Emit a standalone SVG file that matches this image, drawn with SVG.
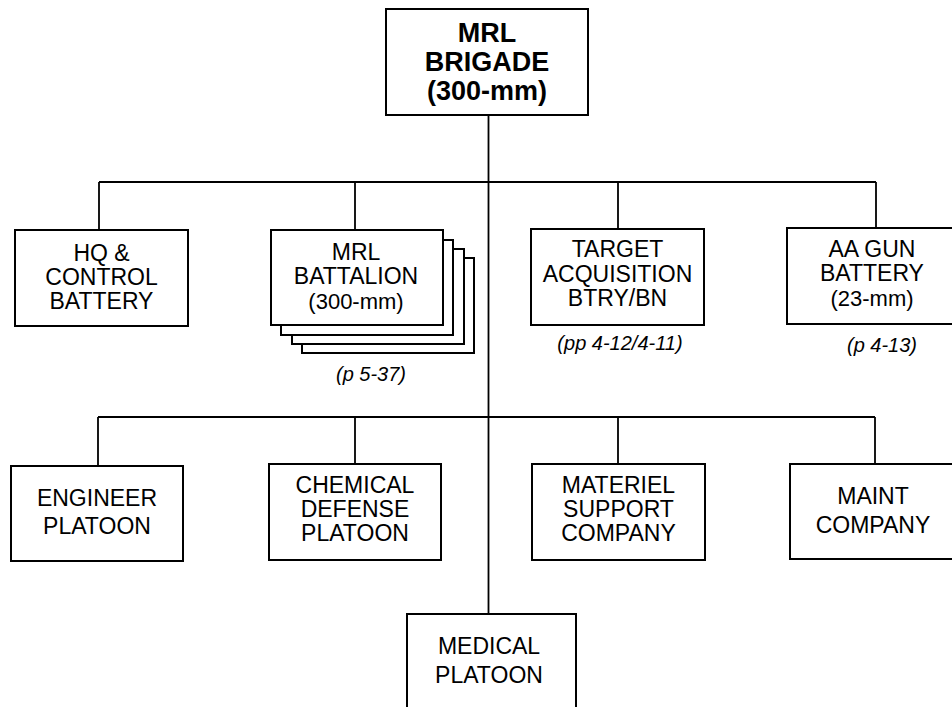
<svg xmlns="http://www.w3.org/2000/svg" width="952" height="707" viewBox="0 0 952 707">
<style>
.box{fill:#fff;stroke:#000;stroke-width:2}
.ln{fill:none;stroke:#000;stroke-width:1.8}
.t{font-family:"Liberation Sans",Arial,sans-serif;font-size:23px;text-anchor:middle;fill:#000}
.tp{font-family:"Liberation Sans",Arial,sans-serif;font-size:22px;text-anchor:middle;fill:#000}
.tb{font-family:"Liberation Sans",Arial,sans-serif;font-size:27px;font-weight:bold;text-anchor:middle;fill:#000}
.ref{font-family:"Liberation Sans",Arial,sans-serif;font-size:20px;font-style:italic;text-anchor:middle;fill:#000}
</style>
<rect width="952" height="707" fill="#fff"/>
<g id="connectors">
<path class="ln" d="M488.5 115V614"/>
<path class="ln" d="M99 182H876M99 182V229M355 182V230M618 182V229M876 182V228"/>
<path class="ln" d="M98 417H875M98 417V466M355 417V464M618 417V464M875 417V464"/>
</g>
<g id="brigade">
<rect class="box" x="386" y="9" width="202" height="106"/>
<text class="tb" x="487" y="42">MRL</text>
<text class="tb" x="487" y="71">BRIGADE</text>
<text class="tb" x="487" y="100">(300-mm)</text>
</g>
<g id="hq">
<rect class="box" x="15" y="230" width="173" height="96"/>
<text class="t" x="101.5" y="261">HQ &amp;</text>
<text class="t" x="101.5" y="285">CONTROL</text>
<text class="t" x="101.5" y="309">BATTERY</text>
</g>
<g id="mrl-battalion">
<rect class="box" x="302" y="258" width="172" height="95"/>
<rect class="box" x="292" y="249" width="172" height="95"/>
<rect class="box" x="281" y="240" width="172" height="95"/>
<rect class="box" x="271" y="230" width="172" height="95"/>
<text class="t" x="356" y="260">MRL</text>
<text class="t" x="356" y="284">BATTALION</text>
<text class="tp" x="356" y="309">(300-mm)</text>
<text class="ref" x="371" y="381">(p 5-37)</text>
</g>
<g id="target">
<rect class="box" x="531" y="229" width="173" height="96"/>
<text class="t" x="617.5" y="257">TARGET</text>
<text class="t" x="617.5" y="282">ACQUISITION</text>
<text class="t" x="617.5" y="306">BTRY/BN</text>
<text class="ref" x="620" y="350">(pp 4-12/4-11)</text>
</g>
<g id="aa-gun">
<rect class="box" x="787" y="228" width="171" height="96"/>
<text class="t" x="872" y="257">AA GUN</text>
<text class="t" x="872" y="281">BATTERY</text>
<text class="tp" x="872" y="306">(23-mm)</text>
<text class="ref" x="882" y="352">(p 4-13)</text>
</g>
<g id="engineer">
<rect class="box" x="11" y="466" width="172" height="95"/>
<text class="t" x="97" y="506">ENGINEER</text>
<text class="t" x="97" y="534">PLATOON</text>
</g>
<g id="chemical">
<rect class="box" x="269" y="464" width="172" height="96"/>
<text class="t" x="355" y="493">CHEMICAL</text>
<text class="t" x="355" y="517">DEFENSE</text>
<text class="t" x="355" y="541">PLATOON</text>
</g>
<g id="materiel">
<rect class="box" x="532" y="464" width="173" height="96"/>
<text class="t" x="618.5" y="493">MATERIEL</text>
<text class="t" x="618.5" y="517">SUPPORT</text>
<text class="t" x="618.5" y="541">COMPANY</text>
</g>
<g id="maint">
<rect class="box" x="790" y="464" width="170" height="95"/>
<text class="t" x="873" y="504">MAINT</text>
<text class="t" x="873" y="533">COMPANY</text>
</g>
<g id="medical">
<rect class="box" x="407" y="614" width="169" height="110"/>
<text class="t" x="489" y="654">MEDICAL</text>
<text class="t" x="489" y="683">PLATOON</text>
</g>
</svg>
